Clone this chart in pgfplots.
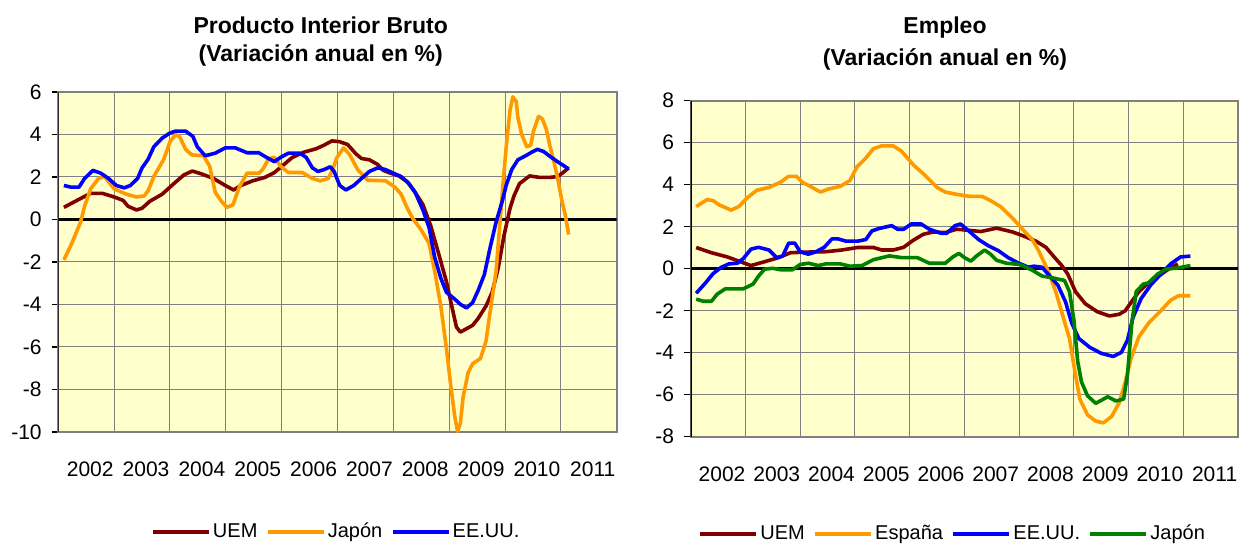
\documentclass[border=0pt]{standalone}
\usepackage{fontspec}
\setmainfont{Liberation Sans}
\usepackage{pgfplots}
\pgfplotsset{compat=1.18}
\definecolor{uem}{RGB}{128,0,0}
\definecolor{jap}{RGB}{255,153,0}
\definecolor{usa}{RGB}{0,0,255}
\definecolor{grn}{RGB}{0,128,0}
\definecolor{bg}{RGB}{255,255,204}
\definecolor{gridc}{RGB}{128,128,128}
\pgfplotsset{
 mychart/.style={
   scale only axis, anchor=south west,
   axis background/.style={fill=bg},
   xmin=2002, xmax=2012,
   xtick={2002,2003,2004,2005,2006,2007,2008,2009,2010,2011,2012},
   x tick label as interval,
   xticklabels={2002,2003,2004,2005,2006,2007,2008,2009,2010,2011},
   xmajorgrids, ymajorgrids,
   major grid style={gridc, line width=0.5pt},
   axis line style={gridc, line width=1pt},
   xtick style={draw=none},
   ytick style={black, line width=0.6pt},
   tick align=outside, ytick pos=left, xtick pos=bottom,
   major tick length=3.3pt,
   tick label style={font=\fontsize{10.5}{12}\selectfont},
   yticklabel style={xshift=-1.5pt},
   xticklabel style={yshift=-8pt, xshift=2pt},
   legend columns=-1,
   legend style={draw=none, fill=none, font=\fontsize{10}{12}\selectfont, anchor=center,
     nodes={inner xsep=1.2pt},
     /tikz/every even column/.append style={column sep=3pt}},
   legend image code/.code={\draw[#1] (0pt,0pt) -- (28pt,0pt);},
   every axis plot/.append style={line width=1.8pt, line join=round, no markers},
 }
}
\begin{document}
\begin{tikzpicture}
\useasboundingbox (0,0) rectangle (620.5pt,273pt);
\node[font=\fontsize{11.5}{14}\selectfont\bfseries] at (160.35pt,260.5pt) {Producto Interior Bruto};
\node[font=\fontsize{11.5}{14}\selectfont\bfseries] at (160.35pt,245.25pt) {(Variación anual en \%)};
\node[font=\fontsize{11.5}{14}\selectfont\bfseries] at (472.5pt,259pt) {Empleo};
\node[font=\fontsize{11.5}{14}\selectfont\bfseries] at (472.5pt,243.5pt) {(Variación anual en \%)};

\begin{axis}[mychart, at={(29.15pt,57pt)}, width=279.2pt, height=170pt,
  ymin=-10, ymax=6, ytick={-10,-8,-6,-4,-2,0,2,4,6},
  yticklabels={-10,-8,-6,-4,-2,0,2,4,6},
  legend style={at={(0.498,-0.294)}}]
\addplot[black, line width=1.5pt, forget plot] coordinates {(2002,0) (2012,0)};
\addplot[uem] coordinates {
(2002.10,0.57)(2002.37,0.95)(2002.58,1.23)(2002.79,1.23)(2003.0,1.06)(2003.16,0.9)
(2003.25,0.62)(2003.40,0.45)(2003.5,0.53)(2003.64,0.86)(2003.86,1.19)(2004.07,1.69)
(2004.25,2.1)(2004.4,2.28)(2004.56,2.15)(2004.78,1.93)(2004.99,1.6)(2005.14,1.39)
(2005.27,1.6)(2005.48,1.82)(2005.7,1.98)(2005.87,2.21)(2006.02,2.54)(2006.19,2.92)
(2006.4,3.17)(2006.62,3.33)(2006.76,3.5)(2006.9,3.7)(2007.04,3.66)(2007.18,3.53)
(2007.33,3.09)(2007.43,2.87)(2007.57,2.81)(2007.72,2.59)(2007.82,2.31)(2007.96,2.17)
(2008.1,2.05)(2008.25,1.77)(2008.39,1.28)(2008.53,0.7)(2008.67,-0.3)(2008.81,-1.6)
(2008.95,-2.92)(2009.06,-4.24)(2009.13,-5.06)(2009.2,-5.3)(2009.31,-5.14)(2009.42,-4.98)
(2009.52,-4.65)(2009.66,-4.07)(2009.77,-3.42)(2009.88,-2.26)(2009.98,-0.78)(2010.09,0.53)
(2010.16,1.11)(2010.26,1.69)(2010.44,2.05)(2010.62,1.98)(2010.8,1.98)(2010.94,2.02)
(2011.04,2.21)(2011.14,2.43)};
\addplot[jap] coordinates {
(2002.10,-1.9)(2002.23,-1.19)(2002.4,-0.12)(2002.47,0.62)(2002.58,1.44)(2002.72,1.93)
(2002.83,2.02)(2003.0,1.44)(2003.22,1.19)(2003.4,1.06)(2003.54,1.11)(2003.61,1.36)
(2003.71,2.02)(2003.89,2.84)(2004.0,3.66)(2004.1,3.99)(2004.17,3.91)(2004.28,3.3)
(2004.39,3.04)(2004.6,3.0)(2004.71,2.51)(2004.81,1.28)(2004.92,0.86)(2005.02,0.57)
(2005.13,0.7)(2005.24,1.52)(2005.38,2.18)(2005.59,2.18)(2005.66,2.35)(2005.77,2.87)
(2005.87,2.92)(2005.98,2.51)(2006.12,2.21)(2006.37,2.21)(2006.55,1.93)(2006.69,1.82)
(2006.83,1.93)(2006.9,2.26)(2006.99,2.92)(2007.11,3.37)(2007.22,3.04)(2007.36,2.35)
(2007.54,1.85)(2007.86,1.82)(2008.03,1.52)(2008.14,1.19)(2008.25,0.53)(2008.35,0.04)
(2008.49,-0.46)(2008.64,-1.12)(2008.74,-2.43)(2008.85,-4.07)(2008.95,-6.05)(2009.03,-7.86)
(2009.1,-9.26)(2009.15,-9.97)(2009.2,-9.59)(2009.25,-8.35)(2009.34,-7.2)(2009.42,-6.79)
(2009.56,-6.54)(2009.66,-5.72)(2009.73,-4.4)(2009.84,-2.43)(2009.91,-0.12)(2009.98,2.18)
(2010.03,3.66)(2010.09,5.14)(2010.14,5.77)(2010.2,5.56)(2010.23,4.81)(2010.3,3.99)
(2010.39,3.42)(2010.46,3.5)(2010.51,4.16)(2010.6,4.85)(2010.67,4.73)(2010.74,4.24)
(2010.8,3.5)(2010.88,2.67)(2010.95,1.85)(2011.02,0.86)(2011.08,0.2)(2011.14,-0.71)};
\addplot[usa] coordinates {
(2002.1,1.6)(2002.23,1.52)(2002.37,1.52)(2002.47,1.93)(2002.62,2.31)(2002.76,2.18)
(2002.9,1.93)(2003.04,1.6)(2003.18,1.49)(2003.29,1.6)(2003.42,1.93)(2003.5,2.43)
(2003.61,2.84)(2003.71,3.42)(2003.86,3.83)(2004.0,4.07)(2004.1,4.16)(2004.28,4.16)
(2004.41,3.91)(2004.49,3.42)(2004.63,3.0)(2004.81,3.12)(2004.99,3.37)(2005.17,3.37)
(2005.38,3.14)(2005.59,3.14)(2005.73,2.92)(2005.87,2.72)(2005.98,2.92)(2006.12,3.12)
(2006.33,3.12)(2006.44,2.92)(2006.55,2.43)(2006.65,2.26)(2006.76,2.35)(2006.87,2.48)
(2006.94,2.26)(2007.04,1.6)(2007.15,1.39)(2007.29,1.6)(2007.43,1.93)(2007.57,2.26)
(2007.72,2.43)(2007.86,2.35)(2008.0,2.18)(2008.14,2.02)(2008.28,1.69)(2008.39,1.28)
(2008.53,0.45)(2008.64,-0.38)(2008.74,-1.77)(2008.85,-2.76)(2008.95,-3.42)(2009.1,-3.75)
(2009.2,-3.99)(2009.31,-4.16)(2009.42,-3.91)(2009.52,-3.33)(2009.63,-2.59)(2009.73,-1.36)
(2009.84,-0.12)(2009.95,0.86)(2010.02,1.6)(2010.12,2.35)(2010.23,2.81)(2010.37,3.0)
(2010.48,3.17)(2010.58,3.3)(2010.69,3.2)(2010.83,2.92)(2010.97,2.67)(2011.14,2.38)};
\draw[black, line width=1pt] (rel axis cs:0,0) -- (rel axis cs:0,1);
\legend{UEM,Japón,EE.UU.}
\end{axis}

\begin{axis}[mychart, at={(345.35pt,54.65pt)}, width=273.65pt, height=168pt,
  ymin=-8, ymax=8, ytick={-8,-6,-4,-2,0,2,4,6,8},
  yticklabels={-8,-6,-4,-2,0,2,4,6,8},
  legend style={at={(0.479,-0.29)}}]
\addplot[black, line width=1.5pt, forget plot] coordinates {(2002,0) (2012,0)};
\addplot[uem] coordinates {
(2002.1,1.01)(2002.38,0.76)(2002.67,0.56)(2002.88,0.36)(2003.1,0.15)(2003.32,0.31)
(2003.61,0.53)(2003.82,0.76)(2004.11,0.79)(2004.47,0.81)(2004.76,0.89)(2005.05,1.01)
(2005.34,1.01)(2005.49,0.89)(2005.7,0.89)(2005.89,1.02)(2006.07,1.36)(2006.25,1.64)
(2006.43,1.75)(2006.65,1.72)(2006.86,1.88)(2007.08,1.83)(2007.3,1.77)(2007.59,1.93)
(2007.88,1.75)(2008.09,1.55)(2008.31,1.31)(2008.49,1.02)(2008.64,0.56)(2008.78,0.15)
(2008.89,-0.26)(2009.03,-1.09)(2009.21,-1.67)(2009.43,-2.05)(2009.65,-2.25)(2009.83,-2.17)
(2009.94,-2.0)(2010.05,-1.59)(2010.19,-1.09)(2010.34,-0.73)(2010.55,-0.35)(2010.73,-0.02)
(2010.9,0.23)};
\addplot[jap] coordinates {
(2002.1,2.96)(2002.3,3.29)(2002.41,3.24)(2002.52,3.04)(2002.74,2.79)(2002.88,2.96)
(2003.03,3.37)(2003.21,3.74)(2003.43,3.87)(2003.64,4.12)(2003.79,4.4)(2003.93,4.4)
(2004.04,4.12)(2004.22,3.87)(2004.37,3.65)(2004.51,3.79)(2004.73,3.92)(2004.91,4.2)
(2005.04,4.86)(2005.2,5.27)(2005.34,5.72)(2005.49,5.85)(2005.7,5.85)(2005.85,5.6)
(2006.07,4.94)(2006.28,4.45)(2006.5,3.87)(2006.65,3.65)(2006.86,3.54)(2007.08,3.45)
(2007.33,3.44)(2007.48,3.24)(2007.66,2.96)(2007.88,2.41)(2008.09,1.8)(2008.24,1.39)
(2008.35,0.89)(2008.53,-0.1)(2008.67,-1.09)(2008.78,-2.08)(2008.92,-3.32)(2009.02,-4.89)
(2009.11,-6.21)(2009.25,-6.96)(2009.4,-7.26)(2009.54,-7.34)(2009.69,-7.04)(2009.83,-6.38)
(2009.94,-5.39)(2010.05,-4.23)(2010.19,-3.24)(2010.37,-2.58)(2010.59,-2.0)(2010.77,-1.5)
(2010.91,-1.29)(2011.13,-1.29)};
\addplot[usa] coordinates {
(2002.1,-1.17)(2002.27,-0.68)(2002.41,-0.23)(2002.56,0.07)(2002.7,0.23)(2002.85,0.26)
(2002.96,0.48)(2003.1,0.93)(2003.24,1.02)(2003.43,0.89)(2003.57,0.53)(2003.68,0.6)
(2003.79,1.22)(2003.9,1.22)(2004.0,0.81)(2004.15,0.69)(2004.29,0.81)(2004.44,1.02)
(2004.58,1.42)(2004.69,1.42)(2004.84,1.31)(2005.05,1.31)(2005.2,1.39)(2005.31,1.8)
(2005.45,1.92)(2005.67,2.05)(2005.78,1.88)(2005.89,1.88)(2006.03,2.13)(2006.21,2.13)
(2006.36,1.88)(2006.57,1.69)(2006.68,1.69)(2006.83,2.05)(2006.93,2.13)(2007.08,1.8)
(2007.26,1.39)(2007.44,1.09)(2007.62,0.86)(2007.8,0.53)(2007.98,0.28)(2008.17,0.07)
(2008.27,0.12)(2008.42,0.07)(2008.56,-0.35)(2008.71,-0.79)(2008.85,-1.59)(2008.96,-2.58)
(2009.09,-3.32)(2009.29,-3.74)(2009.5,-4.03)(2009.72,-4.18)(2009.87,-3.98)(2009.98,-3.4)
(2010.08,-2.33)(2010.23,-1.42)(2010.41,-0.76)(2010.59,-0.26)(2010.77,0.23)(2010.95,0.56)
(2011.13,0.6)};
\addplot[grn] coordinates {
(2002.1,-1.45)(2002.23,-1.55)(2002.38,-1.55)(2002.48,-1.22)(2002.63,-0.96)(2002.96,-0.96)
(2003.14,-0.73)(2003.24,-0.35)(2003.35,-0.02)(2003.5,0.02)(2003.64,-0.05)(2003.86,-0.05)
(2004.0,0.2)(2004.15,0.26)(2004.33,0.15)(2004.47,0.23)(2004.73,0.23)(2004.91,0.12)
(2005.13,0.15)(2005.34,0.43)(2005.63,0.61)(2005.85,0.53)(2006.14,0.53)(2006.36,0.26)
(2006.65,0.26)(2006.79,0.56)(2006.9,0.73)(2007.0,0.53)(2007.12,0.36)(2007.22,0.6)
(2007.37,0.89)(2007.48,0.69)(2007.59,0.4)(2007.77,0.26)(2008.02,0.2)(2008.24,-0.07)
(2008.42,-0.35)(2008.6,-0.43)(2008.74,-0.51)(2008.83,-0.56)(2008.92,-1.09)(2009.0,-2.41)
(2009.07,-4.4)(2009.14,-5.39)(2009.25,-6.05)(2009.4,-6.41)(2009.62,-6.1)(2009.77,-6.3)
(2009.91,-6.21)(2009.98,-5.06)(2010.06,-2.58)(2010.14,-1.09)(2010.27,-0.73)(2010.36,-0.68)
(2010.53,-0.26)(2010.68,-0.02)(2010.89,0.03)(2011.13,0.15)};
\draw[black, line width=1pt] (rel axis cs:0,0) -- (rel axis cs:0,1);
\legend{UEM,España,EE.UU.,Japón}
\end{axis}
\end{tikzpicture}
\end{document}
